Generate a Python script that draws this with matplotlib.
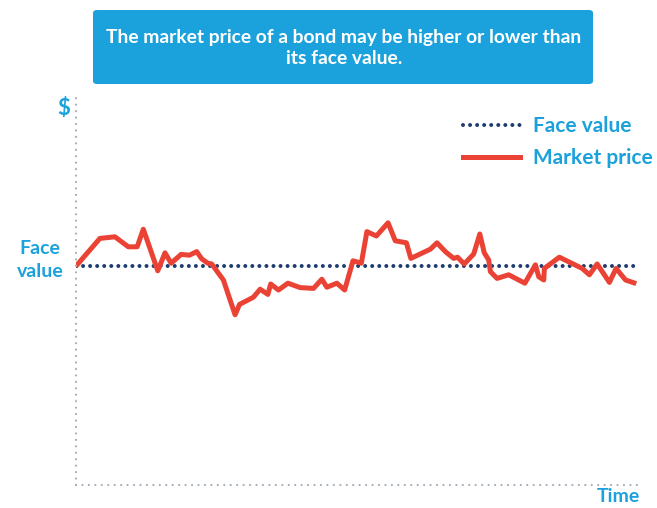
import matplotlib.pyplot as plt
from matplotlib.patches import FancyBboxPatch

# time (arbitrary units) and market price (face value = 100)
time = [0, 4.1, 6.8, 9.2, 10.8, 11.9, 14.5, 15.8, 16.9, 18.7, 20.2, 21.5, 22.4,
        23.5, 24.2, 26.3, 28.4, 29.2, 31.7, 32.9, 34.3, 34.8, 36.2, 37.9, 40.1,
        42.5, 44.0, 44.9, 46.7, 48.1, 49.6, 51.1, 52.1, 53.8, 55.9, 57.2, 59.2,
        60.0, 63.5, 64.7, 66.2, 67.7, 68.4, 69.6, 71.3, 72.4, 73.2, 74.0, 74.3,
        75.5, 77.6, 80.5, 82.4, 83.0, 83.9, 84.0, 86.7, 90.8, 92.1, 93.5, 95.7,
        96.9, 98.6, 100.1]
price = [100.3, 106.9, 107.3, 104.8, 104.8, 109.2, 98.8, 103.3, 100.7, 102.9,
         102.7, 103.6, 101.8, 100.7, 100.5, 96.5, 87.8, 90.4, 92.2, 94.2, 92.9,
         95.5, 94.0, 95.7, 94.6, 94.4, 96.7, 94.7, 95.7, 94.0, 101.3, 100.7,
         108.6, 107.5, 110.8, 106.3, 105.8, 101.9, 104.2, 105.8, 103.6, 101.9,
         102.2, 100.5, 103.0, 108.0, 103.3, 101.5, 98.6, 96.9, 97.8, 95.7, 100.3,
         97.3, 96.5, 99.4, 102.2, 99.4, 97.8, 100.5, 95.9, 99.4, 96.5, 95.8]
face_value = 100

title = "The market price of a bond may be higher or lower than\nits face value."

blue = "#1ba1db"
navy = "#1f3c6e"
red = "#ea4335"
grid_gray = "#a3adb8"

plt.rcParams['font.family'] = ['Lato', 'DejaVu Sans']

fig = plt.figure(figsize=(6.57, 5.08), dpi=100)
ax = fig.add_axes([76 / 657, 23 / 508, 564 / 657, 390 / 508])
ax.set_xlim(-0.2, 101.2)
ax.set_ylim(45.25, 142.75)

ax.plot([-0.2, 100.2], [face_value, face_value], color=navy, lw=2.9,
        linestyle=(0, (0.001, 1.75)), dash_capstyle='round', label="Face value")
ax.plot(time, price, color=red, lw=3.6, solid_joinstyle='round',
        label="Market price")

# dotted axis lines
for s in ['top', 'right']:
    ax.spines[s].set_visible(False)
for s in ['left', 'bottom']:
    ax.spines[s].set_color(grid_gray)
    ax.spines[s].set_linewidth(1.6)
    ax.spines[s].set_linestyle((0, (0.001, 2.9)))
    ax.spines[s].set_capstyle('round')
ax.set_xticks([])
ax.set_yticks([])

leg = ax.legend(loc='upper left', bbox_to_anchor=(463 / 657, 1 - 116 / 508),
                bbox_transform=fig.transFigure, frameon=False,
                borderpad=0, borderaxespad=0,
                handlelength=2.75, handletextpad=0.6, labelspacing=0.6,
                prop={'weight': 'bold', 'size': 15})
for t in leg.get_texts():
    t.set_color(blue)

fig.text(64 / 657, 1 - 108 / 508, "$", color=blue, fontsize=16,
         fontweight='bold', ha='center', va='center')
fig.text(40 / 657, 1 - 260 / 508, "Face\nvalue", color=blue, fontsize=14,
         fontweight='bold', ha='center', va='center', linespacing=1.4)
fig.text(618 / 657, 1 - 497 / 508, "Time", color=blue, fontsize=14,
         fontweight='bold', ha='center', va='center')

box = FancyBboxPatch((93 / 657, 1 - 84 / 508), 500 / 657, 74 / 508,
                     boxstyle="round,pad=0,rounding_size=0.006",
                     transform=fig.transFigure, facecolor=blue,
                     edgecolor='none')
fig.patches.append(box)
fig.text(344 / 657, 1 - 48 / 508, title, color='white', fontsize=13.9,
         fontweight='bold', ha='center', va='center', linespacing=1.3)

fig.savefig("out.png", dpi=100)
